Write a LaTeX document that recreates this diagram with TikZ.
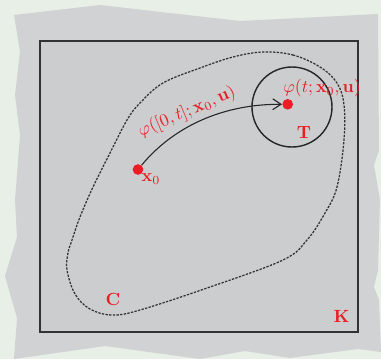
\documentclass[tikz,border=0pt]{standalone}
\usepackage{amsmath}
\usetikzlibrary{arrows.meta}
\definecolor{bgg}{RGB}{231,239,231}
\definecolor{paper}{RGB}{209,210,212}
\definecolor{innergray}{RGB}{204,205,207}
\definecolor{edgegray}{RGB}{50,50,52}
\definecolor{myred}{RGB}{237,28,36}
\tikzset{
  reddot/.style={circle, fill=myred, inner sep=0pt, minimum size=6.4pt},
  lbl/.style={text=myred, inner sep=1pt, scale=1.06},
  trajline/.style={line width=0.65pt, draw=black!85, -{Straight Barb[length=5pt,width=6.5pt]}},
  setC/.style={line width=0.75pt, draw=black!80, dash pattern=on 1.4pt off 0.8pt},
}
\begin{document}
\begin{tikzpicture}[x=0.6pt,y=-0.6pt]
\useasboundingbox (0,0) rectangle (381,359);
\fill[bgg] (0,0) rectangle (381,359);
% torn paper
\fill[paper] (14,15) -- (100,5) -- (240,21) -- (378,14) -- (379,150) -- (374,165) -- (380,200)
  -- (378,270) -- (374,287) -- (379,300) -- (381,352) -- (358,349) -- (290,358) -- (245,351)
  -- (200,359) -- (105,346) -- (14,359) -- (17,318) -- (5,276) -- (17,237) -- (15,200)
  -- (20,135) -- (15,95) -- (20,52) -- cycle;
% set K
\draw[line width=0.8pt, draw=edgegray, fill=innergray] (40,41) rectangle (358,332);
% set C
\draw[setC] plot[smooth cycle, tension=0.6] coordinates {
  (263,52) (293,55) (320,67) (337,83) (344,105) (344,140) (337,187) (325,213) (307,240)
  (283,260) (210,287) (140,310) (112,315) (90,309) (75,294) (67,270) (68,253) (72,240)
  (80,217) (93,187) (110,153) (127,120) (140,103) (163,83) (200,68) (233,57)};
% target T
\node[draw=black!85, line width=0.85pt, circle, minimum size=48pt, inner sep=0pt] (T) at (292,107) {};
% points
\node[reddot] (x0) at (138,169.5) {};
\node[reddot] (xt) at (287.7,104.3) {};
\draw[trajline] (x0) .. controls (175,125) and (225,104) .. (xt);
% labels
\node[lbl] (phit) at (322,88) {$\varphi(t;\mathbf{x}_0,\mathbf{u})$};
\node[lbl] (Tl) at (304,132.5) {$\mathbf{T}$};
\node[lbl] (x0l) at (151,179) {$\mathbf{x}_0$};
\node[lbl, rotate=23] (phil) at (187,112) {$\varphi([0,t];\mathbf{x}_0,\mathbf{u})$};
\node[lbl] (Cl) at (113,299) {$\mathbf{C}$};
\node[lbl] (Kl) at (341.5,316.5) {$\mathbf{K}$};
\end{tikzpicture}
\end{document}
